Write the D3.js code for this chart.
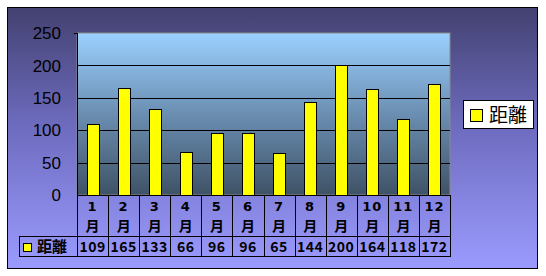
<!DOCTYPE html>
<html>
<head>
<meta charset="utf-8">
<script src="https://cdn.jsdelivr.net/npm/d3@7"></script>
<style>
  body { margin: 0; background: #fff; }
  svg { display: block; }
</style>
</head>
<body>
<div id="chart"></div>
<script>
// data
var months = ["1", "2", "3", "4", "5", "6", "7", "8", "9", "10", "11", "12"];
var distance = [109, 165, 133, 66, 96, 96, 65, 144, 200, 164, 118, 172];
var seriesName = "距離";
var yTicks = [0, 50, 100, 150, 200, 250];

var width = 546, height = 276;
var plot = {left: 77, right: 450, top: 33, bottom: 195};

var svg = d3.select("#chart").append("svg")
  .attr("width", width).attr("height", height);

var defs = svg.append("defs");
var gOuter = defs.append("linearGradient").attr("id", "outerGrad")
  .attr("x1", 0).attr("y1", 0).attr("x2", 0).attr("y2", 1);
gOuter.append("stop").attr("offset", "0%").attr("stop-color", "#434170");
gOuter.append("stop").attr("offset", "45%").attr("stop-color", "#6d6bbe");
gOuter.append("stop").attr("offset", "100%").attr("stop-color", "#9b9bff");

var gPlot = defs.append("linearGradient").attr("id", "plotGrad")
  .attr("x1", 0).attr("y1", 0).attr("x2", 0).attr("y2", 1);
gPlot.append("stop").attr("offset", "0%").attr("stop-color", "#9bd0ff");
gPlot.append("stop").attr("offset", "55%").attr("stop-color", "#6688aa");
gPlot.append("stop").attr("offset", "100%").attr("stop-color", "#3f5266");

// outer chart area
svg.append("rect")
  .attr("x", 7.5).attr("y", 7.5).attr("width", 530).attr("height", 261)
  .attr("fill", "url(#outerGrad)").attr("stroke", "#000").attr("stroke-width", 1);

var x = d3.scaleBand().domain(months).range([plot.left, plot.right]);
var y = d3.scaleLinear().domain([0, 250]).range([plot.bottom, plot.top]);

// plot area
svg.append("rect")
  .attr("x", plot.left).attr("y", plot.top)
  .attr("width", plot.right - plot.left).attr("height", plot.bottom - plot.top)
  .attr("fill", "url(#plotGrad)").attr("stroke", "#8a8a8a").attr("stroke-width", 1);

// gridlines
svg.append("g").selectAll("line")
  .data(yTicks.filter(function(d) { return d > 0 && d < 250; }))
  .enter().append("line")
  .attr("x1", plot.left).attr("x2", plot.right)
  .attr("y1", function(d) { return Math.round(y(d)) + 0.5; })
  .attr("y2", function(d) { return Math.round(y(d)) + 0.5; })
  .attr("stroke", "#000").attr("stroke-width", 1);

// y axis line + tick labels
svg.append("line")
  .attr("x1", plot.left + 0.5).attr("x2", plot.left + 0.5)
  .attr("y1", plot.top).attr("y2", plot.bottom)
  .attr("stroke", "#000");
svg.append("line")
  .attr("x1", plot.left - 3).attr("x2", plot.left + 1)
  .attr("y1", plot.top + 0.5).attr("y2", plot.top + 0.5)
  .attr("stroke", "#000");

svg.append("g").selectAll("text")
  .data(yTicks).enter().append("text")
  .attr("x", 61)
  .attr("y", function(d) { return y(d); })
  .attr("dy", "0.36em")
  .attr("text-anchor", "end")
  .attr("font-family", "'Liberation Sans', Arial, sans-serif")
  .attr("font-size", 17)
  .attr("fill", "#000")
  .text(function(d) { return d; });

// bars
var barW = 12;
svg.append("g").selectAll("rect")
  .data(distance).enter().append("rect")
  .attr("x", function(d, i) { return Math.round(x(months[i]) + x.bandwidth() / 2 - barW / 2) + 0.5; })
  .attr("y", function(d) { return Math.round(y(d)) + 0.5; })
  .attr("width", barW)
  .attr("height", function(d) { return plot.bottom - Math.round(y(d)); })
  .attr("fill", "#ffff00").attr("stroke", "#000").attr("stroke-width", 1);

// data table
var rowTop = plot.bottom, rowMid = 236, rowBot = 256, keyLeft = 19;
var tbl = svg.append("g").attr("stroke", "#000").attr("stroke-width", 1);
tbl.append("line").attr("x1", plot.left).attr("x2", plot.right + 0.5)
  .attr("y1", rowTop + 0.5).attr("y2", rowTop + 0.5);
tbl.append("line").attr("x1", keyLeft).attr("x2", plot.right + 0.5)
  .attr("y1", rowMid + 0.5).attr("y2", rowMid + 0.5);
tbl.append("line").attr("x1", keyLeft).attr("x2", plot.right + 0.5)
  .attr("y1", rowBot + 0.5).attr("y2", rowBot + 0.5);
tbl.append("line").attr("x1", keyLeft + 0.5).attr("x2", keyLeft + 0.5)
  .attr("y1", rowMid).attr("y2", rowBot + 1);
tbl.selectAll("line.v")
  .data(months.concat(["end"])).enter().append("line")
  .attr("class", "v")
  .attr("x1", function(d) { return Math.round(d === "end" ? plot.right : x(d)) + 0.5; })
  .attr("x2", function(d) { return Math.round(d === "end" ? plot.right : x(d)) + 0.5; })
  .attr("y1", rowTop).attr("y2", rowBot + 1);

var tableFont = "'Noto Sans CJK JP', sans-serif";
var digitFont = "'DejaVu Sans', sans-serif";
var mLabels = svg.append("g").selectAll("g")
  .data(months).enter().append("g")
  .attr("transform", function(d) { return "translate(" + (x(d) + x.bandwidth() / 2) + ",0)"; });
mLabels.append("text")
  .attr("y", 211)
  .attr("text-anchor", "middle")
  .attr("font-family", digitFont).attr("font-weight", "bold").attr("font-size", 13)
  .attr("letter-spacing", 1)
  .text(function(d) { return d; });
mLabels.append("text")
  .attr("y", 231)
  .attr("text-anchor", "middle")
  .attr("font-family", tableFont).attr("font-weight", "bold").attr("font-size", 14)
  .text("月");

svg.append("g").selectAll("text")
  .data(distance).enter().append("text")
  .attr("x", function(d, i) { return x(months[i]) + x.bandwidth() / 2; })
  .attr("y", 247).attr("dy", "0.36em")
  .attr("text-anchor", "middle")
  .attr("font-family", tableFont).attr("font-weight", "bold").attr("font-size", 14)
  .attr("letter-spacing", 0.5)
  .text(function(d) { return d; });

// legend key in table
svg.append("rect")
  .attr("x", 23.5).attr("y", 243.5).attr("width", 8).attr("height", 8)
  .attr("fill", "#ffff00").attr("stroke", "#000");
svg.append("text")
  .attr("x", 37).attr("y", 247).attr("dy", "0.36em")
  .attr("font-family", tableFont).attr("font-weight", "bold").attr("font-size", 15)
  .text(seriesName);

// legend
svg.append("rect")
  .attr("x", 463.5).attr("y", 100.5).attr("width", 70).attr("height", 28)
  .attr("fill", "#fff").attr("stroke", "#000");
svg.append("rect")
  .attr("x", 470.5).attr("y", 109.5).attr("width", 12).attr("height", 12)
  .attr("fill", "#ffff00").attr("stroke", "#000");
svg.append("text")
  .attr("x", 489).attr("y", 115).attr("dy", "0.36em")
  .attr("font-family", tableFont).attr("font-size", 19)
  .text(seriesName);
</script>
</body>
</html>
